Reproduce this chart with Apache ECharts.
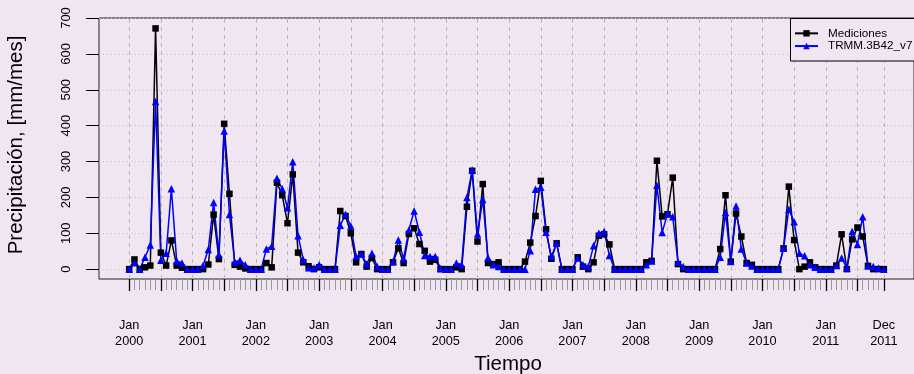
<!DOCTYPE html>
<html><head><meta charset="utf-8">
<script src="https://cdn.jsdelivr.net/npm/echarts@6/dist/echarts.min.js"></script>
<style>html,body{margin:0;padding:0;background:#F0E6F2;}#c{width:914px;height:374px;}</style>
</head><body><div id="c"></div>
<script>
// Monthly series Jan 2000 .. Dec 2011 (144 months), x = month index
const startYear = 2000;
const mediciones = [
  0,27,0,5,10,671,46,10,80,10,4,0,
  0,0,0,13,152,28,405,210,12,7,2,0,
  0,0,17,5,241,206,128,264,46,19,8,0,
  5,0,0,0,162,148,100,19,42,7,31,0,
  0,0,19,58,17,98,114,70,51,21,26,0,
  0,0,5,0,174,274,77,237,17,14,19,0,
  0,0,0,21,74,148,246,111,29,72,0,0,
  0,33,7,0,19,93,97,69,0,0,0,0,
  0,0,19,23,302,147,153,255,14,0,0,0,
  0,0,0,0,56,206,21,155,91,17,12,0,
  0,0,0,0,58,230,81,0,7,19,5,0,
  0,0,10,97,0,83,116,91,9,0,0,0
];
const trmm = [
  0,18,0,33,67,467,25,44,224,23,17,0,
  0,0,10,55,186,41,385,152,20,25,12,0,
  0,0,56,64,253,224,171,299,93,26,4,3,
  12,0,0,0,122,153,120,35,42,14,44,7,
  0,0,21,81,29,109,162,103,38,35,35,2,
  0,0,17,12,200,276,98,194,32,12,7,0,
  0,0,0,0,51,223,228,103,35,72,0,0,
  0,31,12,7,65,100,105,38,0,0,0,0,
  0,0,12,23,234,102,154,146,19,7,0,0,
  0,0,0,0,33,158,21,176,56,17,9,0,
  0,0,0,0,58,167,132,44,37,12,5,0,
  0,0,10,31,3,105,69,146,9,7,3,0
];
const labelPos = [0,12,24,36,48,60,72,84,96,108,120,132,143];
const tickLabels = ['Jan\n2000','Jan\n2001','Jan\n2002','Jan\n2003','Jan\n2004','Jan\n2005','Jan\n2006','Jan\n2007','Jan\n2008','Jan\n2009','Jan\n2010','Jan\n2011','Dec\n2011'];
const majorTickPos = [0,6,12,18,24,30,36,42,48,54,60,66,72,78,84,90,96,102,108,114,120,126,132,138,143];
const yTicks = [0,100,200,300,400,500,600,700];
const seriesNames = ['Mediciones','TRMM.3B42_v7'];

const minorTickPos = mediciones.map((v,i)=>i);
const bg = '#F0E6F2';
const FONT = '"Liberation Sans", Arial, Helvetica, sans-serif';

const chart = echarts.init(document.getElementById('c'), null, {renderer:'canvas'});
const gridLines = majorTickPos.map(v => ({xAxis: v, lineStyle:{type:[4,4], color:'#b8b8b8', width:1}}))
  .concat(yTicks.map(v => ({yAxis: v, lineStyle:{type:[1,3], color:'#c4c4c4', width:1}})));

const option = {
  backgroundColor: bg,
  animation: false,
  grid: {left:99, top:18, width:818, height:261, show:true, borderColor:'#222', borderWidth:1, backgroundColor:'transparent'},
  xAxis: [
    {type:'value', min:-5.72, max:148.72, position:'bottom',
     axisLine:{show:false, onZero:false}, splitLine:{show:false}, axisLabel:{show:false},
     axisTick:{show:true, customValues:minorTickPos, length:11, lineStyle:{color:'#9a9a9a', width:1}}},
    {type:'value', min:-5.72, max:148.72, position:'bottom',
     axisLine:{show:false, onZero:false}, splitLine:{show:false},
     axisTick:{show:true, customValues:majorTickPos, length:12, lineStyle:{color:'#000', width:1.3}},
     axisLabel:{customValues:labelPos, formatter:(v)=>tickLabels[labelPos.indexOf(Math.round(v))] || '',
       margin:38, fontSize:12.7, lineHeight:16, color:'#000', fontFamily:FONT}}
  ],
  yAxis: {type:'value', min:-27.5, max:700,
    axisLine:{show:false, onZero:false}, splitLine:{show:false},
    axisTick:{show:true, customValues:yTicks, length:13, lineStyle:{color:'#000', width:1}},
    axisLabel:{customValues:yTicks, rotate:90, margin:26, fontSize:13, color:'#000', fontFamily:FONT}},
  legend: {orient:'vertical', left:794, top:27, padding:0, itemWidth:23, itemHeight:8, itemGap:0,
    data:seriesNames,
    textStyle:{fontSize:11.7, lineHeight:12.7, padding:[0,0,0,5], color:'#000', fontFamily:FONT}},
  graphic: [
    {type:'rect', z:3, shape:{x:790.5, y:18.5, width:140, height:42.5}, style:{fill:bg, stroke:'#000', lineWidth:1}},
    {type:'text', x:16, y:145, rotation:Math.PI/2, style:{text:'Precipitación, [mm/mes]', font:'20.5px '+FONT, fill:'#000', align:'center', verticalAlign:'middle'}},
    {type:'text', x:508, y:364, style:{text:'Tiempo', font:'20.5px '+FONT, fill:'#000', align:'center', verticalAlign:'middle'}}
  ],
  series: [
    {name:seriesNames[0], type:'line', xAxisIndex:1, data:mediciones.map((v,i)=>[i,v]),
     symbol:'rect', symbolSize:6.5, showAllSymbol:true, color:'#000',
     lineStyle:{color:'#000', width:1.5}, itemStyle:{color:'#000'},
     markLine:{z:1, silent:true, symbol:['none','none'], label:{show:false}, animation:false, data:gridLines}},
    {name:seriesNames[1], type:'line', xAxisIndex:1, data:trmm.map((v,i)=>[i,v]),
     symbol:'triangle', symbolSize:7.5, showAllSymbol:true, color:'#0000FF',
     lineStyle:{color:'#0000FF', width:1.5}, itemStyle:{color:'#0000FF'}}
  ]
};
chart.setOption(option);
</script></body></html>
